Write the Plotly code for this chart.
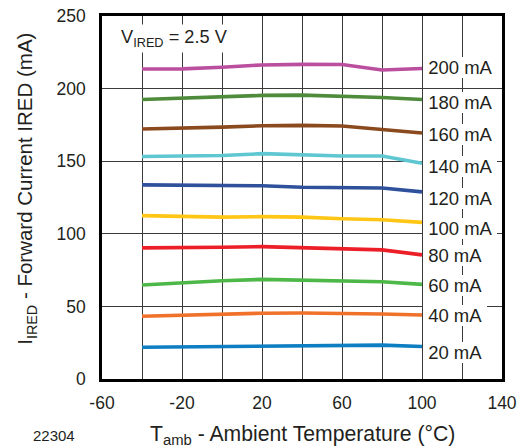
import plotly.graph_objects as go

# ---- data ----
temps = [-40, -20, 0, 20, 40, 60, 80, 100]
series_names = ["200 mA", "180 mA", "160 mA", "140 mA", "120 mA",
                "100 mA", "80 mA", "60 mA", "40 mA", "20 mA"]
i200 = [213.5, 213.6, 214.7, 216.3, 216.7, 216.6, 212.8, 213.8]
i180 = [192.5, 193.4, 194.3, 195.3, 195.5, 195.0, 193.9, 192.5]
i160 = [172.2, 172.6, 173.5, 174.4, 174.7, 174.2, 171.5, 169.4]
i140 = [153.2, 153.4, 153.9, 155.2, 154.5, 153.6, 153.6, 148.6]
i120 = [133.7, 133.5, 133.3, 133.1, 132.1, 131.5, 131.5, 128.9]
i100 = [112.5, 111.8, 111.5, 111.8, 111.5, 110.4, 109.7, 107.9]
i80 = [90.3, 90.3, 90.7, 91.2, 90.3, 89.4, 88.9, 85.5]
i60 = [64.7, 66.5, 67.7, 68.6, 67.9, 67.2, 67.0, 65.2]
i40 = [43.2, 43.9, 44.8, 45.3, 45.5, 45.3, 44.8, 44.1]
i20 = [21.9, 22.2, 22.6, 22.8, 22.9, 23.1, 23.3, 22.4]
series_values = [i200, i180, i160, i140, i120, i100, i80, i60, i40, i20]

x_tick_labels = [-60, -20, 20, 60, 100, 140]
x_minor_grid = [-40, 0, 40, 80, 120]
y_tick_labels = [0, 50, 100, 150, 200, 250]

# ---- styling / layout ----
colors = ["#bb4f9f", "#4e8b3b", "#8b4a1e", "#5fc7d1", "#2f519c",
          "#ffc616", "#ec1e27", "#4db848", "#f0712a", "#0e7ec2"]
label_y_mA = [214.3, 190.7, 168.6, 146.6, 124.6, 103.9, 85.3, 64.6, 43.7, 18.5]
label_x = 100.7

TXT = "#231f20"
FONT = "Liberation Sans, Arial, Helvetica, sans-serif"
GRID = "#3a3a3a"
NBSP = "\u00a0"

fig = go.Figure()
for name, vals, col in zip(series_names, series_values, colors):
    fig.add_trace(go.Scatter(x=temps, y=vals, mode="lines", name=name,
                             line=dict(color=col, width=3.6)))

for name, ly in zip(series_names, label_y_mA):
    fig.add_annotation(x=label_x, y=ly, xref="x", yref="y",
                       text=NBSP + name + NBSP,
                       showarrow=False, xanchor="left", yanchor="middle",
                       bgcolor="white", borderpad=0, borderwidth=0,
                       font=dict(family=FONT, size=18.5, color=TXT))

fig.add_annotation(x=0.040, y=0.938, xref="paper", yref="paper",
                   text="V<sub>IRED</sub> = 2.5 V", showarrow=False,
                   xanchor="left", yanchor="middle", bgcolor="white",
                   borderpad=2, font=dict(family=FONT, size=18.2, color=TXT))

fig.add_annotation(x=-0.19, y=0.524, xref="paper", yref="paper",
                   text="I<sub>IRED</sub> - Forward Current IRED (mA)",
                   textangle=-90, showarrow=False, xanchor="center",
                   yanchor="middle", font=dict(family=FONT, size=20.5, color=TXT))
fig.add_annotation(x=0.5, y=-0.154, xref="paper", yref="paper",
                   text="T<sub>amb</sub> - Ambient Temperature (°C)",
                   showarrow=False, xanchor="center", yanchor="middle",
                   font=dict(family=FONT, size=21.2, color=TXT))
fig.add_annotation(x=-0.121, y=-0.157, xref="paper", yref="paper",
                   text="22304", showarrow=False, xanchor="center",
                   yanchor="middle", font=dict(family=FONT, size=15, color=TXT))

frame = dict(showline=True, mirror=True, linecolor="black", linewidth=2.7)

fig.update_xaxes(range=[-60, 140], tickmode="array", tickvals=x_tick_labels,
                 ticktext=[str(v) for v in x_tick_labels],
                 showgrid=True, gridcolor=GRID, gridwidth=1.2,
                 minor=dict(tickmode="array", tickvals=x_minor_grid, showgrid=True,
                            gridcolor=GRID, gridwidth=1.2, ticks=""),
                 zeroline=False, ticks="", automargin=False,
                 ticklabelstandoff=6, ticklabeloverflow="allow",
                 tickfont=dict(family=FONT, size=17.5, color=TXT), **frame)
fig.update_yaxes(range=[0, 250], tickmode="array", tickvals=y_tick_labels,
                 showgrid=True, gridcolor=GRID, gridwidth=1.2,
                 zeroline=False, ticks="", automargin=False,
                 ticklabelstandoff=10, ticklabeloverflow="allow",
                 tickfont=dict(family=FONT, size=17.5, color=TXT), **frame)

fig.update_layout(width=522, height=447,
                  margin=dict(l=101.7, r=20, t=16.4, b=67.7, pad=0),
                  paper_bgcolor="white", plot_bgcolor="white",
                  showlegend=False)

# remove the browser's default 8px page margin so the figure fills the window
fig.write_html("out.html",
               config={"displayModeBar": False},
               post_script="document.body.style.margin='0';"
                           "document.body.style.overflow='hidden';")
